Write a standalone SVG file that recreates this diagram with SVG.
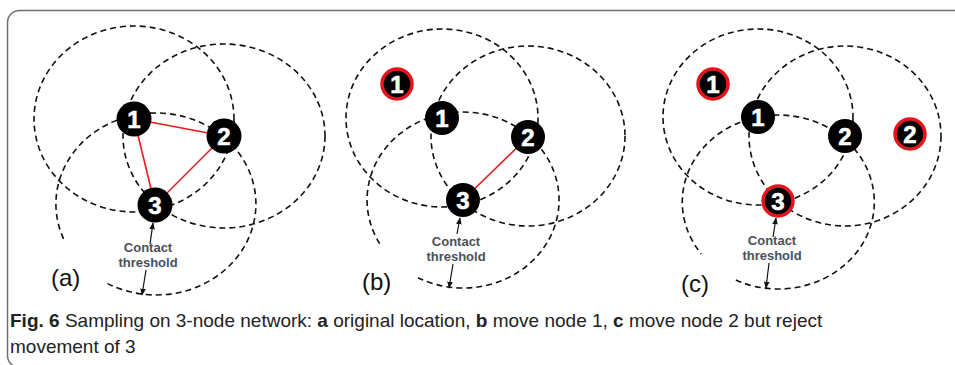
<svg xmlns="http://www.w3.org/2000/svg" width="955" height="365" viewBox="0 0 955 365">
<defs>
<marker id="ah" viewBox="0 0 10 10" refX="9" refY="5" markerWidth="7" markerHeight="7" markerUnits="userSpaceOnUse" orient="auto">
<path d="M0,1 L10,5 L0,9 Z" fill="#111"/>
</marker>
<style>
.rng{fill:none;stroke:#111;stroke-width:1.6;stroke-dasharray:6 4}
.edge{stroke:#f01818;stroke-width:1.6;fill:none}
.nd{fill:#000}
.mv{fill:#000;stroke:#e8141c;stroke-width:3.5}
.dg{font-family:"Liberation Sans",Arial,sans-serif;font-weight:bold;font-size:24px;fill:#fff;text-anchor:middle;stroke:#fff;stroke-width:0.6}
.ct{font-family:"Liberation Sans",Arial,sans-serif;font-weight:bold;font-size:13px;fill:#4b505a;text-anchor:middle}
.pl{font-family:"Liberation Sans",Arial,sans-serif;font-size:24px;fill:#111}
.arr{stroke:#111;stroke-width:1.2;fill:none;marker-end:url(#ah)}
.cap{font-family:"Liberation Sans",Arial,sans-serif;font-size:19px;fill:#222}
</style>
</defs>
<rect x="7.5" y="10.5" width="960" height="357" rx="12" fill="#fff" stroke="#707070" stroke-width="1.5"/>

<g id="connectors">
<ellipse class="rng" cx="134" cy="119" rx="100" ry="93"/>
<ellipse class="rng" cx="224" cy="136" rx="101" ry="92"/>
<path class="rng" d="M107.5,283.6 A100,91 0 1 0 63.9,239.6"/>
<ellipse class="rng" cx="442" cy="118" rx="96" ry="89"/>
<ellipse class="rng" cx="528" cy="136" rx="97" ry="90"/>
<path class="rng" d="M417.9,277.7 A96,88 0 1 0 381.6,246.6"/>
<ellipse class="rng" cx="758" cy="117" rx="95" ry="88"/>
<ellipse class="rng" cx="845" cy="136" rx="96" ry="90"/>
<path class="rng" d="M735.9,280.1 A96,87 0 1 0 701.3,254.0"/>
<line class="edge" x1="134" y1="119" x2="224" y2="136"/>
<line class="edge" x1="134" y1="119" x2="155" y2="205"/>
<line class="edge" x1="224" y1="136" x2="155" y2="205"/>
<line class="edge" x1="528" y1="137" x2="463" y2="200"/>
<line class="arr" x1="150" y1="244" x2="153" y2="223"/>
<line class="arr" x1="146" y1="270" x2="142" y2="295"/>
<line class="arr" x1="457" y1="234" x2="460" y2="218"/>
<line class="arr" x1="453" y1="264" x2="449" y2="288"/>
<line class="arr" x1="773" y1="237" x2="776" y2="218"/>
<line class="arr" x1="769" y1="263" x2="766" y2="288"/>
</g>

<g id="a-node1"><circle class="nd" cx="134" cy="119" r="17.5"/><text class="dg" x="134" y="127.5">1</text></g>
<g id="a-node2"><circle class="nd" cx="224" cy="136" r="17.5"/><text class="dg" x="224" y="144.5">2</text></g>
<g id="a-node3"><circle class="nd" cx="155" cy="205" r="17.5"/><text class="dg" x="155" y="213.5">3</text></g>

<g id="b-node1-moved"><circle class="mv" cx="397" cy="84" r="15"/><text class="dg" x="397" y="92.5">1</text></g>
<g id="b-node1"><circle class="nd" cx="442" cy="118" r="17"/><text class="dg" x="442" y="126.5">1</text></g>
<g id="b-node2"><circle class="nd" cx="528" cy="137" r="17"/><text class="dg" x="528" y="145.5">2</text></g>
<g id="b-node3"><circle class="nd" cx="463" cy="200" r="17"/><text class="dg" x="463" y="208.5">3</text></g>

<g id="c-node1-moved"><circle class="mv" cx="713" cy="84" r="15"/><text class="dg" x="713" y="92.5">1</text></g>
<g id="c-node1"><circle class="nd" cx="758" cy="117" r="17"/><text class="dg" x="758" y="125.5">1</text></g>
<g id="c-node2"><circle class="nd" cx="845" cy="136" r="17"/><text class="dg" x="845" y="144.5">2</text></g>
<g id="c-node2-moved"><circle class="mv" cx="910" cy="134" r="15"/><text class="dg" x="910" y="142.5">2</text></g>
<g id="c-node3"><circle class="mv" cx="778" cy="201" r="15"/><text class="dg" x="778" y="209.5">3</text></g>

<g id="labels">
<text class="ct" x="148" y="252">Contact</text>
<text class="ct" x="148" y="267">threshold</text>
<text class="ct" x="456" y="246">Contact</text>
<text class="ct" x="456" y="261">threshold</text>
<text class="ct" x="772" y="245">Contact</text>
<text class="ct" x="772" y="260">threshold</text>
<text class="pl" x="51" y="286">(a)</text>
<text class="pl" x="362" y="290">(b)</text>
<text class="pl" x="681" y="292">(c)</text>
</g>

<g id="caption">
<text class="cap" x="10" y="327"><tspan font-weight="bold">Fig. 6</tspan>  Sampling on 3-node network: <tspan font-weight="bold">a</tspan> original location, <tspan font-weight="bold">b</tspan> move node 1, <tspan font-weight="bold">c</tspan> move node 2 but reject</text>
<text class="cap" x="10" y="353">movement of 3</text>
</g>
</svg>
